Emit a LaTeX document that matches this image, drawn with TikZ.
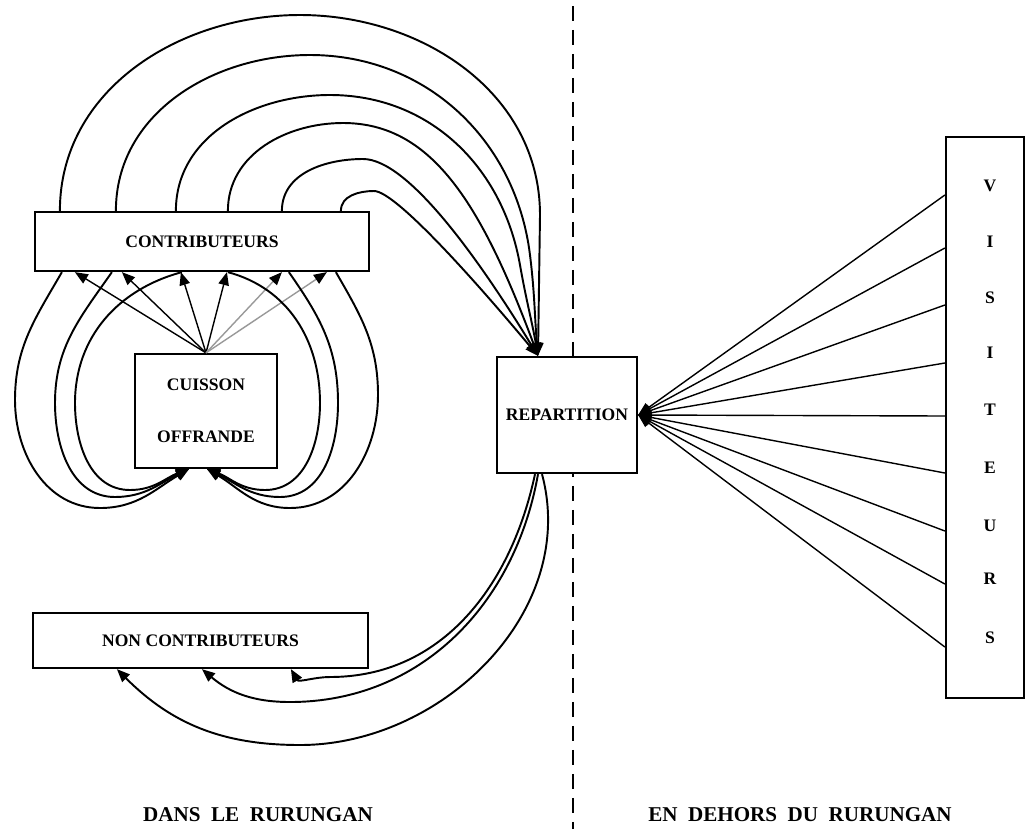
\documentclass[tikz,border=0pt]{standalone}
\usepackage{fontspec}
\setmainfont{Liberation Serif}
\usetikzlibrary{arrows.meta,calc}
\begin{document}
\begin{tikzpicture}[x=0.02cm,y=0.02cm,
  box/.style={draw,line width=1.3pt,fill=white,inner sep=0pt,
    font=\fontsize{10}{12}\selectfont\bfseries},
  tip/.style={-{Triangle[length=0.26cm,width=0.21cm,color=black]}},
  conn/.style={line width=1.1pt,tip},
  ray/.style={line width=0.8pt,tip},
  faint/.style={line width=0.8pt,draw=black!40,tip},
  letter/.style={font=\fontsize{10}{12}\selectfont\bfseries},
  lbl/.style={font=\fontsize{12}{14}\selectfont\bfseries},
  divider/.style={line width=1.1pt,dash pattern=on 0.3cm off 0.18cm}]

\useasboundingbox (0,0) rectangle (1027,-829);

% dividing line between the two zones
\coordinate (divtop) at (573,-6);
\coordinate (divbot) at (573,-829);
\draw[divider] (divtop) -- (divbot);

% boxes
\node[box,minimum width=6.68cm,minimum height=1.18cm] (contrib) at (202,-241.5) {CONTRIBUTEURS};
\node[box,minimum width=2.84cm,minimum height=2.28cm,align=center] (cuis) at (206,-411)
  {CUISSON\\[0.62cm]OFFRANDE};
\node[box,minimum width=2.8cm,minimum height=2.32cm] (rep) at (567,-415) {REPARTITION};
\node[box,minimum width=6.7cm,minimum height=1.1cm] (noncon) at (200.5,-640.5) {NON CONTRIBUTEURS};
\node[box,minimum width=1.56cm,minimum height=11.22cm] (vis) at (985,-417.5) {};
\foreach \l/\y [count=\i] in {V/186,I/242,S/298,I/353,T/410,E/468,U/526,R/579,S/638}
  \node[letter] (vis\i) at (990,-\y) {\l};

% zone labels
\node[lbl] (dans) at (258,-815) {DANS\hspace{0.5em}LE\hspace{0.5em}RURUNGAN};
\node[lbl] (dehors) at (800,-815) {EN\hspace{0.5em}DEHORS\hspace{0.5em}DU\hspace{0.5em}RURUNGAN};

% arrow end points
\coordinate (cl) at ($(cuis.south)+(-17,0)$);
\coordinate (cr) at ($(cuis.south)+(1,0)$);
\coordinate (rt) at ($(rep.north)+(-29,0)$);

% contributeurs -> repartition (arches over the top)
\draw[conn] ($(contrib.north west)+(26,0)$) to[out=90,in=180] (300,-15)
  to[out=0,in=90] (540,-215) -- (rt);
\draw[conn] ($(contrib.north west)+(82,0)$) to[out=90,in=180] (310,-55)
  to[out=0,in=97] (530,-255) to[out=-83,in=95] (rt);
\draw[conn] ($(contrib.north west)+(142,0)$) to[out=90,in=180] (330,-95)
  to[out=0,in=100] (520,-265) to[out=-80,in=100] (rt);
\draw[conn] ($(contrib.north west)+(194,0)$) to[out=90,in=180] (343,-123)
  .. controls (430,-123) and (480,-200) .. (rt);
\draw[conn] ($(contrib.north west)+(248,0)$) to[out=90,in=180] (363,-159)
  .. controls (410,-159) and (485,-269) .. (rt);
\draw[conn] ($(contrib.north west)+(307,0)$) to[out=90,in=180] (374,-191)
  .. controls (395,-191) and (473,-278) .. (rt);

% cuisson -> contributeurs (straight)
\foreach \dx in {41,88,147,193}
  \draw[ray] (cuis.north) -- ($(contrib.south west)+(\dx,0)$);
\foreach \dx in {248,293}
  \draw[faint] (cuis.north) -- ($(contrib.south west)+(\dx,0)$);

% contributeurs -> cuisson (loops, left side)
\draw[conn] ($(contrib.south west)+(28,0)$) to[out=-120,in=90] (15,-400)
  to[out=-90,in=180] (100,-508) to[out=0,in=-150] (cl);
\draw[conn] ($(contrib.south west)+(78,0)$) to[out=-125,in=90] (55,-403)
  to[out=-90,in=180] (115,-497) to[out=0,in=-155] (cl);
\draw[conn] ($(contrib.south west)+(148,0)$) to[out=195,in=90] (75,-403)
  to[out=-90,in=180] (130,-490) to[out=0,in=-160] (cl);

% contributeurs -> cuisson (loops, right side)
\draw[conn] ($(contrib.south west)+(302,0)$) to[out=-60,in=90] (378,-395)
  to[out=-90,in=0] (290,-508) to[out=180,in=-30] (cr);
\draw[conn] ($(contrib.south west)+(255,0)$) to[out=-55,in=90] (338,-403)
  to[out=-90,in=0] (280,-497) to[out=180,in=-25] (cr);
\draw[conn] ($(contrib.south west)+(194,0)$) to[out=-15,in=90] (320,-403)
  to[out=-90,in=0] (265,-490) to[out=180,in=-20] (cr);

% repartition -> non contributeurs
\draw[conn] ($(rep.south)+(-32,0)$) to[out=-102,in=0] (330,-677)
  to[out=180,in=-60] ($(noncon.south west)+(259,0)$);
\draw[conn] ($(rep.south)+(-29,0)$) to[out=-100,in=0] (290,-702)
  to[out=180,in=-40] ($(noncon.south west)+(170,0)$);
\draw[conn] ($(rep.south)+(-25,0)$) to[out=-75,in=0] (300,-745)
  to[out=180,in=-45] ($(noncon.south west)+(85,0)$);

% visiteurs -> repartition (fan)
\foreach \y in {195,248,305,363,416,473,531,584,647}
  \draw[ray] (vis.west |- 0,-\y) -- (rep.east);

\end{tikzpicture}
\end{document}
